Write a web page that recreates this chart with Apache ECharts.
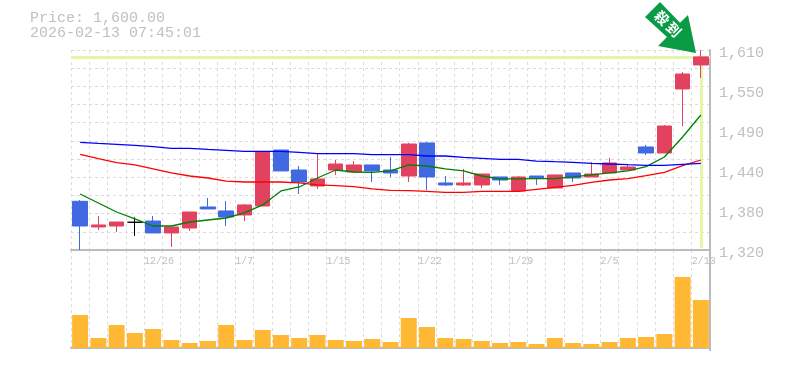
<!DOCTYPE html>
<html><head><meta charset="utf-8">
<style>html,body{margin:0;padding:0;background:#fff}#c{width:785px;height:370px}</style>
<script src="https://cdn.jsdelivr.net/npm/echarts@6/dist/echarts.min.js"></script>
</head><body><div id="c"></div>
<script>
const categories = ['12/22','12/23','12/24','12/25','12/26','12/29','12/30','1/5','1/6','1/7','1/8','1/9','1/13','1/14','1/15','1/16','1/19','1/20','1/21','1/22','1/23','1/26','1/27','1/28','1/29','1/30','2/2','2/3','2/4','2/5','2/6','2/9','2/10','2/12','2/13'];
const shownDates = ['12/26','1/7','1/15','1/22','1/29','2/5','2/13'];
const priceTicks = ['1,320','1,380','1,440','1,490','1,550','1,610'];
// open, close, low, high
const ohlc = [
[1390.6,1354.8,1320,1392.5],[1353.4,1356.3,1349,1369.3],[1354.8,1360.6,1346.1,1360.6],[1360.2,1360.2,1340.3,1367.4],
[1362,1344.7,1344.7,1369.3],[1344.7,1353.4,1324.4,1353.4],[1351.9,1375.1,1347.6,1375.1],[1382.4,1379.5,1379.5,1395.4],
[1376.6,1367.9,1354.8,1391],[1370.8,1385.3,1362,1386.7],[1383.8,1462.1,1383.8,1462.1],[1465,1434.6,1434.6,1465],
[1436,1418.6,1401.2,1441.8],[1412.8,1423,1408.5,1460.2],[1436,1444.7,1428.8,1450.5],[1433.1,1443.3,1433.1,1449],
[1443.3,1434.6,1418.6,1443.3],[1436,1431.7,1425.9,1454.9],[1427.3,1473.7,1418.6,1475.2],[1475.2,1425.9,1407,1476.6],
[1417.2,1414.3,1412.8,1427.3],[1414.3,1417.2,1412.8,1437.5],[1414.3,1430.2,1409.9,1430.2],[1425.9,1421.5,1414.3,1425.9],
[1405.6,1425.9,1405.6,1427.3],[1427.3,1424.4,1414.3,1427.3],[1409.9,1428.8,1409.9,1428.8],[1431.7,1424.4,1418.6,1431.7],
[1425.9,1430.2,1425.9,1447.6],[1431.7,1446.2,1431.7,1453.4],[1436,1440.4,1434.6,1444.7],[1469.4,1460.7,1457.8,1472.3],
[1460.7,1499.8,1460.7,1501.3],[1553.5,1575.2,1499.8,1578.1],[1588.3,1600,1569.4,1610]];
const maGreen = [1401.2,1388.2,1375.1,1365,1354.8,1354.8,1360.6,1363.5,1366.4,1373.7,1385.3,1405.6,1411.4,1424.4,1436,1433.1,1432.7,1434.6,1443.3,1441.8,1437.5,1434.6,1427.3,1423,1423,1423.4,1423.4,1425.9,1428.8,1431.7,1434.6,1440.8,1454.9,1483.9,1515.8];
const maRed = [1458.8,1452.4,1446.6,1443.3,1437.5,1431.7,1427.3,1424.4,1420,1418.6,1418.6,1418.6,1417.2,1414.3,1413.2,1411.8,1408.5,1406.6,1406,1405.1,1403.7,1403.7,1405.1,1405.1,1405.1,1408,1410.9,1413.8,1418.2,1421.5,1423.4,1427.7,1432.7,1442.2,1450.5];
const maBlue = [1476.2,1474.7,1473.3,1471.8,1469.8,1467.5,1467.5,1466,1464.6,1463.1,1463.1,1463.1,1461.7,1459.6,1459.6,1459.6,1458.2,1458.2,1458.2,1456.3,1456.3,1454.4,1453,1451.5,1451.5,1449,1448,1447.2,1445.7,1444.7,1443.7,1442.8,1442.8,1444.3,1445.7];
const volume = [33,10,23,15,19,8,5,7,23,8,18,13,10,13,8,7,9,6,30,21,10,9,7,5,6,4,10,5,4,6,10,11,14,71,48];
const lastPrice = 1600;
const priceMin = 1320, priceMax = 1610;
const badgeWords = ['殺','到'];

const mono = '"Liberation Mono","DejaVu Sans Mono",monospace';
const gridLine = {show:true,interval:0,lineStyle:{color:'#dcdcdc',type:[3,3],width:1}};
const border = {show:true,lineStyle:{color:'#bbbbbb',width:2}};
const boundaries = categories.concat(['']);
const candleData = ohlc.map(v => v[0]===v[1]
  ? {value:v,itemStyle:{color:'#000',color0:'#000',borderColor:'#000',borderColor0:'#000'}} : v);
const maSeries = (name,data,color)=>({name,type:'line',xAxisIndex:0,yAxisIndex:0,data,symbol:'none',silent:true,
  lineStyle:{color,width:1.3},z:4});
const badgeFont = 'bold 14px "Noto Sans CJK JP"';

const chart = echarts.init(document.getElementById('c'),null,{renderer:'canvas'});
chart.setOption({
  animation:false,
  backgroundColor:'#fff',
  title:{left:30,top:11,padding:0,text:'Price: 1,600.00\n2026-02-13 07:45:01',
    textStyle:{fontFamily:mono,fontSize:15,fontWeight:'normal',color:'#c0c0c0',lineHeight:15}},
  grid:[{left:71,top:50,width:639,height:200},{left:71,top:250,width:639,height:100}],
  xAxis:[
    {type:'category',gridIndex:0,data:categories,boundaryGap:true,axisLine:border,axisTick:{show:false},axisLabel:{show:false},splitLine:gridLine},
    {type:'category',gridIndex:0,data:boundaries,boundaryGap:false,position:'bottom',axisLine:{show:false},axisTick:{show:false},splitLine:{show:false},
      axisLabel:{show:true,hideOverlap:false,margin:6,align:'left',fontFamily:mono,fontSize:10,color:'#c0c0c0',
        interval:(i,name)=>shownDates.includes(name)}},
    {type:'category',gridIndex:1,data:categories,boundaryGap:true,axisLine:border,axisTick:{show:false},axisLabel:{show:false},splitLine:gridLine}
  ],
  yAxis:[
    {type:'value',gridIndex:0,min:priceMin,max:priceMax,interval:(priceMax-priceMin)/5,position:'right',
      axisLine:border,axisTick:{show:false},splitLine:{show:false},
      axisLabel:{show:true,margin:9,verticalAlign:'top',lineHeight:7,showMinLabel:true,showMaxLabel:true,fontFamily:mono,fontSize:15,color:'#c0c0c0',
        formatter:(v)=>priceTicks[Math.round((v-priceMin)/((priceMax-priceMin)/5))]}},
    {type:'value',gridIndex:0,min:0,max:11,interval:1,position:'left',axisLine:{show:false},axisTick:{show:false},axisLabel:{show:false},splitLine:gridLine},
    {type:'value',gridIndex:1,min:-2,max:98,position:'right',axisLine:border,axisTick:{show:false},axisLabel:{show:false},splitLine:{show:false}}
  ],
  graphic:[
    {type:'polygon',z:20,shape:{points:[[660,2],[680,22.7],[688,15],[696,53],[658,46],[667,37],[645,17]]},style:{fill:'#0a9b45'}},
    {type:'text',z:21,x:662,y:18,rotation:-Math.PI/4,style:{text:badgeWords[0],fill:'#fff',font:badgeFont,align:'center',verticalAlign:'middle'}},
    {type:'text',z:21,x:674,y:29.5,rotation:-Math.PI/4,style:{text:badgeWords[1],fill:'#fff',font:badgeFont,align:'center',verticalAlign:'middle'}}
  ],
  series:[
    {type:'candlestick',xAxisIndex:0,yAxisIndex:0,data:candleData,barWidth:15,z:3,silent:true,
      itemStyle:{color:'#e2425f',color0:'#4169e1',borderColor:'#e2425f',borderColor0:'#4169e1',borderWidth:1},
      markLine:{silent:true,symbol:'none',z:1,label:{show:false},animation:false,
        lineStyle:{color:'#e4f5a8',width:3,type:'solid'},
        data:[{yAxis:lastPrice},[{coord:[categories.length-1,lastPrice]},{coord:[categories.length-1,1323]}]]}},
    maSeries('MA short',maGreen,'#008000'),
    maSeries('MA long',maRed,'#ff0000'),
    maSeries('MA longest',maBlue,'#0000ff'),
    {type:'bar',xAxisIndex:2,yAxisIndex:2,data:volume,barWidth:16,silent:true,itemStyle:{color:'#ffb834'}}
  ]
});
</script></body></html>
